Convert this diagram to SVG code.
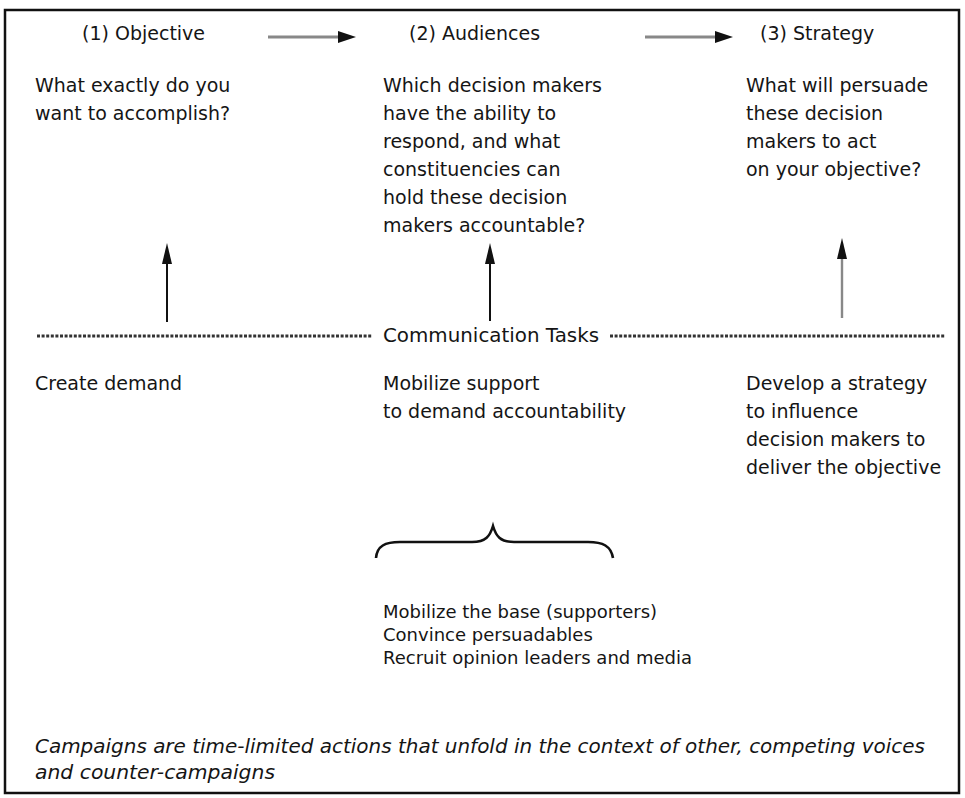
<svg xmlns="http://www.w3.org/2000/svg" width="965" height="798" viewBox="0 0 965 798">
  <defs>
    <style>
      text { font-family: "DejaVu Sans", "Liberation Sans", sans-serif; font-size: 19px; fill: #151515; }
      .it { font-style: italic; font-size: 20px; }
      .sm { font-size: 18px; }
      .dots { stroke: #333; stroke-width: 3; stroke-dasharray: 3 1.6; fill: none; }
      .shaft { stroke: #111; stroke-width: 2; fill: none; }
      .gshaft { stroke: #888; stroke-width: 3; fill: none; }
      .head { fill: #111; }
    </style>
  </defs>
  <rect x="5" y="10" width="954" height="783" fill="#fff" stroke="#111" stroke-width="2.5"/>

  <g id="objective">
    <text x="82" y="40">(1) Objective</text>
    <text x="35" y="92">What exactly do you</text>
    <text x="35" y="120">want to accomplish?</text>
  </g>
  <g id="audiences">
    <text x="409" y="40">(2) Audiences</text>
    <text x="383" y="92">Which decision makers</text>
    <text x="383" y="120">have the ability to</text>
    <text x="383" y="148">respond, and what</text>
    <text x="383" y="176">constituencies can</text>
    <text x="383" y="204">hold these decision</text>
    <text x="383" y="232">makers accountable?</text>
  </g>
  <g id="strategy">
    <text x="760" y="40">(3) Strategy</text>
    <text x="746" y="92">What will persuade</text>
    <text x="746" y="120">these decision</text>
    <text x="746" y="148">makers to act</text>
    <text x="746" y="176">on your objective?</text>
  </g>

  <g id="communication-tasks">
    <line class="dots" x1="37" y1="336" x2="372" y2="336"/>
    <text x="383" y="342" textLength="216" lengthAdjust="spacingAndGlyphs">Communication Tasks</text>
    <line class="dots" x1="610" y1="336" x2="945" y2="336"/>
  </g>

  <g id="create-demand">
    <text x="35" y="390">Create demand</text>
  </g>
  <g id="mobilize-support">
    <text x="383" y="390">Mobilize support</text>
    <text x="383" y="418">to demand accountability</text>
  </g>
  <g id="develop-strategy">
    <text x="746" y="390">Develop a strategy</text>
    <text x="746" y="418">to influence</text>
    <text x="746" y="446">decision makers to</text>
    <text x="746" y="474">deliver the objective</text>
  </g>

  <g id="brace">
    <path d="M376,558 C377,546 385,542 400,542 L472,542 C486,542 490,536 493,526 C496,536 500,542 514,542 L588,542 C603,542 611,546 613,558" fill="none" stroke="#111" stroke-width="2.6"/>
  </g>

  <g id="base-list">
    <text class="sm" x="383" y="618">Mobilize the base (supporters)</text>
    <text class="sm" x="383" y="641">Convince persuadables</text>
    <text class="sm" x="383" y="664">Recruit opinion leaders and media</text>
  </g>

  <g id="footer">
    <text class="it" x="35" y="753" textLength="890" lengthAdjust="spacingAndGlyphs">Campaigns are time-limited actions that unfold in the context of other, competing voices</text>
    <text class="it" x="35" y="779" textLength="240" lengthAdjust="spacingAndGlyphs">and counter-campaigns</text>
  </g>

  <g id="connectors">
    <line class="gshaft" x1="268" y1="37" x2="340" y2="37"/>
    <polygon class="head" points="356,37 338,31 338,43"/>
    <line class="gshaft" x1="645" y1="37" x2="716" y2="37"/>
    <polygon class="head" points="733,37 715,31 715,43"/>

    <line class="shaft" x1="167" y1="322" x2="167" y2="258"/>
    <polygon class="head" points="167,243 162,264 172,264"/>
    <line class="shaft" x1="490" y1="321" x2="490" y2="258"/>
    <polygon class="head" points="490,243 485,264 495,264"/>
    <line class="gshaft" x1="842" y1="318" x2="842" y2="254" style="stroke-width:2.4"/>
    <polygon class="head" points="842,238 837,259 847,259"/>
  </g>
</svg>
